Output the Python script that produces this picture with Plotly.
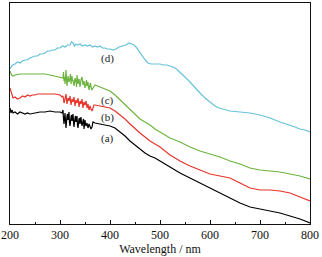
import plotly.graph_objects as go

# Wavelength (nm) and absorbance (a.u.)
wl_d = [200,205,210,215,220,225,230,235,240,245,250,255,260,265,270,275,280,285,290,295,300,305,310,315,320,323,326,329,332,336,340,345,350,355,360,365,370,375,380,385,390,395,400,406,412,418,425,432,438,442,448,452,456,460,464,468,472,476,482,490,500,507,514,520,526,533,540,550,560,570,580,590,600,610,618,626,640,660,680,700,720,740,760,770,780,790,800]
abs_d = [1.55,1.59,1.60,1.62,1.61,1.63,1.64,1.64,1.66,1.67,1.68,1.68,1.70,1.70,1.71,1.73,1.73,1.74,1.74,1.76,1.76,1.78,1.77,1.79,1.79,1.82,1.81,1.78,1.80,1.79,1.80,1.78,1.79,1.78,1.79,1.77,1.78,1.77,1.78,1.76,1.76,1.75,1.75,1.74,1.75,1.77,1.78,1.79,1.81,1.80,1.79,1.77,1.74,1.71,1.68,1.65,1.63,1.61,1.60,1.60,1.60,1.59,1.59,1.58,1.57,1.55,1.52,1.47,1.42,1.36,1.31,1.26,1.22,1.18,1.16,1.15,1.13,1.12,1.11,1.09,1.06,1.02,0.99,0.97,0.95,0.94,0.92]

wl_c = [200,203,206,210,220,230,240,250,260,270,280,290,296,304,306,307,308,309,310,312,313,314,316,317,318,320,321,322,324,325,326,328,329,330,332,333,334,336,337,338,340,341,342,344,345,346,348,349,350,352,353,354,356,357,358,360,361,362,364,366,368,370,380,390,400,410,420,430,440,450,460,470,480,490,500,520,540,560,580,600,620,640,660,680,700,720,740,760,780,800]
abs_c = [1.53,1.49,1.48,1.49,1.50,1.50,1.50,1.50,1.50,1.50,1.49,1.48,1.47,1.46,1.46,1.52,1.43,1.47,1.40,1.54,1.44,1.38,1.48,1.43,1.42,1.46,1.50,1.40,1.48,1.43,1.44,1.38,1.45,1.46,1.42,1.37,1.49,1.40,1.44,1.45,1.37,1.43,1.44,1.47,1.40,1.39,1.43,1.38,1.36,1.41,1.44,1.38,1.42,1.37,1.34,1.39,1.41,1.37,1.34,1.36,1.38,1.39,1.37,1.35,1.33,1.29,1.24,1.19,1.14,1.09,1.05,1.02,0.99,0.95,0.92,0.86,0.82,0.77,0.73,0.70,0.67,0.63,0.60,0.56,0.54,0.53,0.52,0.50,0.48,0.45]

wl_b = [200,202,204,206,210,215,220,225,230,235,240,245,250,255,260,270,280,290,300,304,306,307,308,310,311,312,314,315,316,318,319,320,322,323,324,326,327,328,330,331,332,334,335,336,338,339,340,342,343,344,346,347,348,350,351,352,354,355,356,358,360,362,364,366,368,370,380,390,400,410,420,430,440,450,460,470,480,490,500,520,540,560,580,600,620,640,660,680,700,720,740,760,780,800]
abs_b = [1.36,1.32,1.28,1.26,1.27,1.25,1.26,1.28,1.27,1.29,1.28,1.29,1.29,1.30,1.30,1.30,1.30,1.30,1.29,1.27,1.28,1.23,1.21,1.25,1.29,1.30,1.20,1.24,1.26,1.23,1.27,1.28,1.19,1.22,1.25,1.22,1.26,1.27,1.18,1.21,1.24,1.21,1.25,1.26,1.17,1.20,1.23,1.20,1.24,1.25,1.16,1.19,1.22,1.19,1.22,1.23,1.16,1.18,1.20,1.14,1.18,1.15,1.13,1.16,1.19,1.19,1.18,1.17,1.16,1.13,1.09,1.05,1.00,0.95,0.91,0.87,0.83,0.80,0.77,0.69,0.63,0.58,0.54,0.50,0.48,0.46,0.41,0.36,0.34,0.34,0.33,0.31,0.27,0.23]

wl_a = [200,202,204,206,210,215,220,225,230,235,240,250,260,270,280,290,300,304,306,307,308,310,311,312,314,315,316,318,319,320,322,323,324,326,327,328,330,331,332,334,335,336,338,339,340,342,343,344,346,347,348,350,351,352,354,355,356,358,360,362,364,366,370,380,390,400,410,420,430,440,450,460,470,480,490,500,520,540,560,580,600,620,640,660,680,700,720,740,760,780,800]
abs_a = [1.16,1.11,1.14,1.11,1.12,1.10,1.12,1.11,1.10,1.11,1.10,1.11,1.12,1.12,1.13,1.12,1.12,1.11,1.14,1.05,1.00,1.11,1.03,0.96,1.08,1.10,1.04,1.12,1.01,0.98,1.07,1.09,1.03,1.10,1.02,0.97,1.06,1.08,1.02,1.08,0.99,0.96,1.05,1.06,1.00,1.07,1.01,0.98,1.03,1.05,0.95,1.04,1.00,0.98,1.01,0.97,0.96,1.00,0.97,0.95,0.97,1.02,1.01,1.00,0.99,0.98,0.96,0.92,0.88,0.83,0.79,0.75,0.71,0.68,0.66,0.63,0.57,0.51,0.46,0.41,0.36,0.31,0.26,0.21,0.17,0.15,0.13,0.11,0.08,0.05,0.01]

labels = ["(a)", "(b)", "(c)", "(d)"]
label_x = [394, 394, 394, 394]
label_y = [0.86, 1.07, 1.24, 1.66]

series = [(wl_a, abs_a, "#000000"), (wl_b, abs_b, "#e8342b"),
          (wl_c, abs_c, "#6cb43f"), (wl_d, abs_d, "#66c2d8")]

fig = go.Figure()
for (x, y, c), name in zip(series, labels):
    fig.add_trace(go.Scatter(x=x, y=y, mode="lines", name=name,
                             line=dict(color=c, width=1.2), showlegend=False))

for t, lx, ly in zip(labels, label_x, label_y):
    fig.add_annotation(x=lx, y=ly, text=t, showarrow=False,
                       font=dict(family="Liberation Serif", size=11, color="#222"))

fig.update_layout(
    width=322, height=257,
    margin=dict(l=10, r=12, t=3, b=33),
    paper_bgcolor="white", plot_bgcolor="white",
    font=dict(family="Liberation Serif", size=12, color="#111"),
    xaxis=dict(range=[200, 800], dtick=100, ticks="inside", ticklen=4,
               tickcolor="#111", showline=True, linecolor="#111", linewidth=1,
               mirror=True, showgrid=False, zeroline=False, automargin=False,
               tickfont=dict(size=12),
               minor=dict(dtick=50, ticks="inside", ticklen=2, tickcolor="#111"),
               title=dict(text="Wavelength / nm", standoff=0,
                          font=dict(family="Liberation Serif", size=12))),
    yaxis=dict(range=[0, 2.21], showticklabels=False, ticks="", automargin=False,
               showline=True, linecolor="#111", linewidth=1, mirror=True,
               showgrid=False, zeroline=False),
)

fig.write_html("out.html", config={"displayModeBar": False},
               post_script="document.body.style.margin='0';document.body.style.overflow='hidden';")
